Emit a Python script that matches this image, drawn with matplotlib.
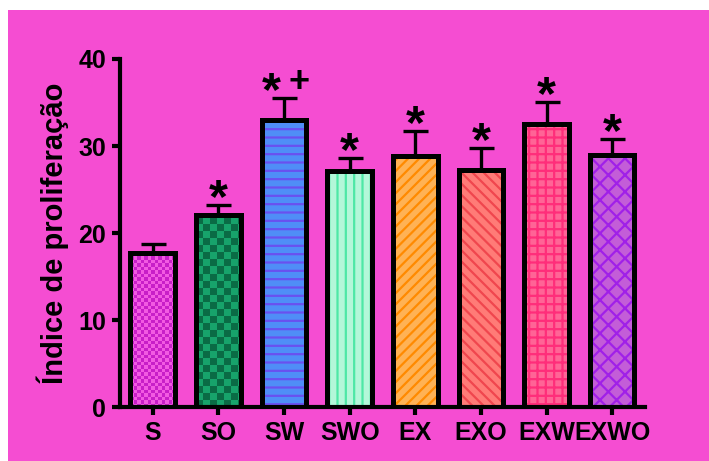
import numpy as np
import matplotlib
matplotlib.use('Agg')
import matplotlib.pyplot as plt
from matplotlib.colors import ListedColormap
from matplotlib.patches import Rectangle

# Data
groups = ['S', 'SO', 'SW', 'SWO', 'EX', 'EXO', 'EXW', 'EXWO']
means = [17.7, 22.1, 33.0, 27.1, 28.8, 27.2, 32.5, 29.0]
sem = [1.0, 1.1, 2.5, 1.5, 2.9, 2.6, 2.6, 1.8]
signif = ['', '*', '*', '*', '*', '*', '*', '*']
extra = ['', '', '+', '', '', '', '', '']

# Fill styles for each bar: face colour, hatch colour, hatch
face_colors = ['#F25AE2', '#17A36B', '#4F8EF7', '#B3F7D9', '#FFB255', '#FF7B77', '#FF6496', '#C35DD8']
hatch_colors = ['#C81FC8', '#0A6B45', '#6A50F0', '#4DE8A6', '#FF8A00', '#F0464E', '#FF2D7A', '#A020E8']
hatches = [None, None, '--', '||', '///', '\\\\\\', '++', 'xx']
checker_px = [3.5, 7.0, 0, 0, 0, 0, 0, 0]

bg = '#F54DD2'

plt.rcParams['font.family'] = ['Liberation Sans', 'DejaVu Sans']
plt.rcParams['font.weight'] = 'bold'
plt.rcParams['hatch.linewidth'] = 1.6

fig = plt.figure(figsize=(7.09, 4.61), dpi=100)
fig.patch.set_facecolor('white')
fig.patches.append(Rectangle((8 / 709, 0), 1, 451 / 461, transform=fig.transFigure,
                             facecolor=bg, edgecolor='none', zorder=-10))

ax = fig.add_axes([120 / 709, 54 / 461, 525 / 709, 348 / 461])
ax.set_facecolor('none')
ax.set_xlim(-0.5, 7.5)
ax.set_ylim(0, 40)

x = np.arange(len(groups))
width = 0.68

# Filled bars with coloured hatching (edge width 0 so the hatch keeps its own colour)
fills = ax.bar(x, means, width, color=face_colors, linewidth=0, zorder=2)
for b, hc, h in zip(fills, hatch_colors, hatches):
    if h:
        b.set_hatch(h)
        b.set_edgecolor(hc)

# Checkerboard fills drawn as clipped images
for b, px, c1, c2 in zip(fills, checker_px, hatch_colors, face_colors):
    if not px:
        continue
    x0, y0 = b.get_x(), b.get_y()
    w, h = b.get_width(), b.get_height()
    p0 = ax.transData.transform((x0, y0))
    p1 = ax.transData.transform((x0 + w, y0 + h))
    nx = int((p1[0] - p0[0]) / px) + 1
    ny = int((p1[1] - p0[1]) / px) + 1
    dx = w / (p1[0] - p0[0]) * px
    dy = h / (p1[1] - p0[1]) * px
    arr = np.add.outer(np.arange(ny), np.arange(nx)) % 2
    im = ax.imshow(arr, extent=(x0, x0 + nx * dx, y0, y0 + ny * dy), origin='lower',
                   cmap=ListedColormap([c1, c2]), interpolation='nearest',
                   aspect='auto', zorder=2.5)
    im.set_clip_path(b)

# Upper error bars
ax.errorbar(x, means, yerr=[np.zeros(len(sem)), sem], fmt='none', ecolor='black',
            elinewidth=2.4, capsize=9, capthick=2.4, zorder=3)

# Black bar outlines
ax.bar(x, means, width, facecolor='none', edgecolor='black', linewidth=3.6, zorder=4)

ax.set_xlim(-0.5, 7.5)
ax.set_ylim(0, 40)

# Significance marks above error bars
for xi, m, s, a, e in zip(x, means, sem, signif, extra):
    top = m + s
    if a and e:
        ax.annotate(a, (xi, top), xytext=(-9.5, -5), textcoords='offset points',
                    ha='center', va='baseline', fontsize=35, annotation_clip=False)
        ax.annotate(e, (xi, top), xytext=(11, 4.5), textcoords='offset points',
                    ha='center', va='baseline', fontsize=26, annotation_clip=False)
    elif a:
        ax.annotate(a, (xi, top), xytext=(0, -5), textcoords='offset points',
                    ha='center', va='baseline', fontsize=35, annotation_clip=False)

ax.set_xticks(x)
ax.set_xticklabels(groups)
ax.set_yticks([0, 10, 20, 30, 40])
ax.set_ylabel('Índice de proliferação', fontsize=21, fontweight='bold', labelpad=7)

for side in ['top', 'right']:
    ax.spines[side].set_visible(False)
for side in ['left', 'bottom']:
    ax.spines[side].set_linewidth(3)
    ax.spines[side].set_capstyle('projecting')
ax.tick_params(width=3, length=6, labelsize=18, colors='black', pad=4)

fig.savefig('out.png', dpi=100, facecolor=fig.get_facecolor())
